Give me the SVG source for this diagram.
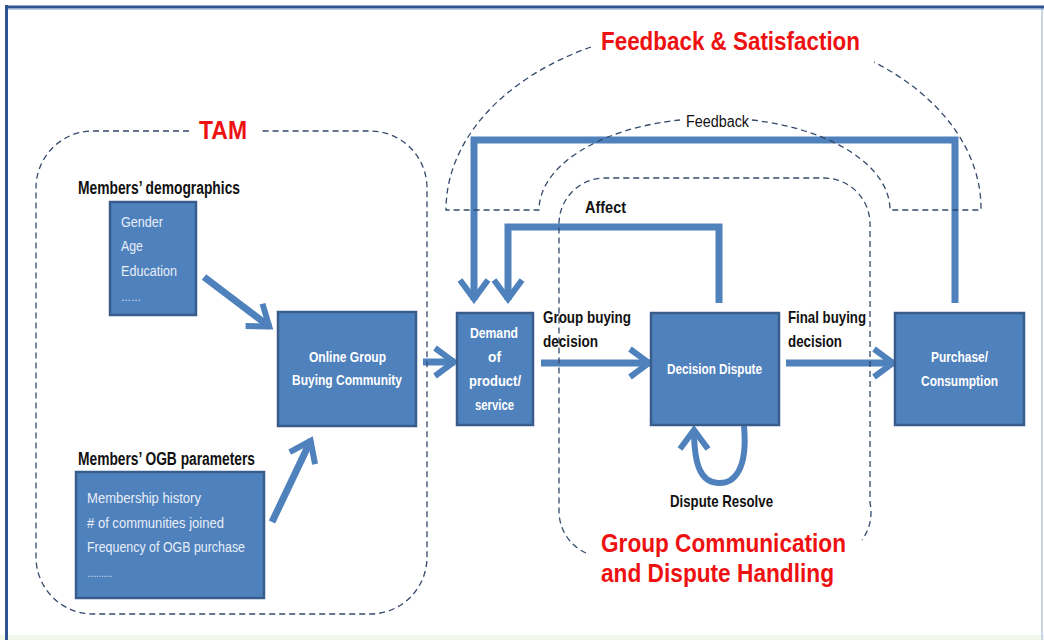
<svg xmlns="http://www.w3.org/2000/svg" width="1044" height="640" viewBox="0 0 1044 640">
<style>
.box{fill:#4f81bd;stroke:#385d8a;stroke-width:2.5}
.bt{font-family:"Liberation Sans Narrow","Liberation Sans",Arial,sans-serif;fill:#ffffff;font-size:15.5px;font-weight:bold}
.lt{font-family:"Liberation Sans Narrow","Liberation Sans",Arial,sans-serif;fill:#e8eef8;font-size:15.5px}
.lab{font-family:"Liberation Sans Narrow","Liberation Sans",Arial,sans-serif;fill:#111111;font-size:17px;font-weight:bold}
.red{font-family:"Liberation Sans","Noto Sans",Arial,sans-serif;fill:#ee1111;font-size:25px;font-weight:bold}
.dash{fill:none;stroke:#34496b;stroke-width:1.3;stroke-dasharray:6 4}
.arr{fill:none;stroke:#4f81bd;stroke-width:7;marker-end:url(#head)}
</style>
<defs>
<marker id="head" viewBox="-26 -18 30 36" refX="0" refY="0" markerWidth="30" markerHeight="36" markerUnits="userSpaceOnUse" orient="auto">
<path d="M -20 -14 L -1 0 L -20 14" fill="none" stroke="#4f81bd" stroke-width="6"/>
</marker>
</defs>
<rect x="0" y="0" width="1044" height="640" fill="#ffffff"/>
<rect x="0" y="635" width="1044" height="5" fill="#f3f9ea"/>
<line x1="1042" y1="8" x2="1042" y2="640" stroke="#c9d6e3" stroke-width="2"/>
<line x1="5" y1="7" x2="1044" y2="7" stroke="#2f5290" stroke-width="3"/>
<line x1="6.5" y1="5" x2="6.5" y2="640" stroke="#2f5290" stroke-width="3"/>
<line x1="8" y1="9.5" x2="1044" y2="9.5" stroke="#b8cce4" stroke-width="1"/>

<g id="connectors">
<path class="arr" d="M 204 277 L 270 327"/>
<path class="arr" d="M 272 522 L 311 440"/>
<path class="arr" d="M 423 362 L 455 362"/>
<path class="arr" d="M 541 363 L 650 363"/>
<path class="arr" d="M 786 363 L 894 363"/>
<path class="arr" d="M 955 303 L 955 140 L 474 140 L 474 300"/>
<path class="arr" d="M 719 303 L 719 227 L 508 227 L 508 300"/>
<path class="arr" style="stroke-width:6" d="M 744 426 C 748 470 734 484 718 483 C 701 482 694 466 694 429"/>
</g>

<g id="tam-region">
<path class="dash" d="M 189 131 L 93 131 A 57 57 0 0 0 36 188 L 36 557 A 57 57 0 0 0 93 614 L 370 614 A 57 57 0 0 0 427 557 L 427 188 A 57 57 0 0 0 370 131 L 259 131"/>
<text class="red" x="199" y="139" textLength="48" lengthAdjust="spacingAndGlyphs">TAM</text>
</g>

<g id="feedback-region">
<path class="dash" d="M 591 47 A 267 183 0 0 0 446 210 L 539 210 A 175 92 0 0 1 680 120"/>
<path class="dash" d="M 752 120 A 175 92 0 0 1 890 210 L 981 210 A 267 183 0 0 0 874 62"/>
<text class="red" x="601" y="50" textLength="259" lengthAdjust="spacingAndGlyphs">Feedback &amp; Satisfaction</text>
<text class="lab" style="font-weight:normal;font-size:16px" x="686" y="127" textLength="63" lengthAdjust="spacingAndGlyphs">Feedback</text>
</g>

<g id="group-comm-region">
<path class="dash" d="M 586 553 A 46 46 0 0 1 559 512 L 559 224 A 46 46 0 0 1 605 178 L 824 178 A 46 46 0 0 1 870 224 L 870 503 A 46 46 0 0 1 862 540"/>
<text class="red" x="601" y="552" textLength="245" lengthAdjust="spacingAndGlyphs">Group Communication</text>
<text class="red" x="601" y="582" textLength="233" lengthAdjust="spacingAndGlyphs">and Dispute Handling</text>
</g>

<g id="members-demographics">
<text class="lab" style="font-size:18px" x="78" y="194" textLength="162" lengthAdjust="spacingAndGlyphs">Members’ demographics</text>
<rect class="box" x="110" y="202" width="86" height="113"/>
<text class="lt" x="121" y="227" textLength="42" lengthAdjust="spacingAndGlyphs">Gender</text>
<text class="lt" x="121" y="251" textLength="22" lengthAdjust="spacingAndGlyphs">Age</text>
<text class="lt" x="121" y="276" textLength="56" lengthAdjust="spacingAndGlyphs">Education</text>
<text class="lt" x="121" y="301" style="font-size:10px" textLength="20" lengthAdjust="spacingAndGlyphs">……</text>
</g>

<g id="members-ogb">
<text class="lab" style="font-size:18px" x="78" y="465" textLength="177" lengthAdjust="spacingAndGlyphs">Members’ OGB parameters</text>
<rect class="box" x="76" y="472" width="188" height="126"/>
<text class="lt" x="87" y="503" textLength="114" lengthAdjust="spacingAndGlyphs">Membership history</text>
<text class="lt" x="87" y="528" textLength="137" lengthAdjust="spacingAndGlyphs"># of communities  joined</text>
<text class="lt" x="87" y="552" textLength="158" lengthAdjust="spacingAndGlyphs">Frequency of OGB purchase</text>
<text class="lt" x="87" y="577" style="font-size:10px" textLength="25" lengthAdjust="spacingAndGlyphs">………..</text>
</g>

<g id="online-community">
<rect class="box" x="278" y="312" width="138" height="114"/>
<text class="bt" x="309" y="362" textLength="77" lengthAdjust="spacingAndGlyphs">Online Group</text>
<text class="bt" x="292" y="385" textLength="110" lengthAdjust="spacingAndGlyphs">Buying Community</text>
</g>

<g id="demand">
<rect class="box" x="457" y="313" width="76" height="112"/>
<text class="bt" x="470" y="338" textLength="48" lengthAdjust="spacingAndGlyphs">Demand</text>
<text class="bt" x="488" y="362" textLength="13" lengthAdjust="spacingAndGlyphs">of</text>
<text class="bt" x="469" y="386" textLength="52" lengthAdjust="spacingAndGlyphs">product/</text>
<text class="bt" x="475" y="410" textLength="39" lengthAdjust="spacingAndGlyphs">service</text>
</g>

<g id="decision-dispute">
<rect class="box" x="651" y="313" width="128" height="112"/>
<text class="bt" x="667" y="374" textLength="95" lengthAdjust="spacingAndGlyphs">Decision Dispute</text>
</g>

<g id="purchase">
<rect class="box" x="895" y="313" width="129" height="112"/>
<text class="bt" x="931" y="362" textLength="57" lengthAdjust="spacingAndGlyphs">Purchase/</text>
<text class="bt" x="921" y="386" textLength="77" lengthAdjust="spacingAndGlyphs">Consumption</text>
</g>

<g id="labels">
<text class="lab" x="543" y="323" textLength="88" lengthAdjust="spacingAndGlyphs">Group buying</text>
<text class="lab" x="543" y="347" textLength="55" lengthAdjust="spacingAndGlyphs">decision</text>
<text class="lab" x="788" y="323" textLength="78" lengthAdjust="spacingAndGlyphs">Final buying</text>
<text class="lab" x="788" y="347" textLength="54" lengthAdjust="spacingAndGlyphs">decision</text>
<text class="lab" x="585" y="213" textLength="41" lengthAdjust="spacingAndGlyphs">Affect</text>
<text class="lab" x="670" y="507" textLength="103" lengthAdjust="spacingAndGlyphs">Dispute Resolve</text>
</g>
</svg>
